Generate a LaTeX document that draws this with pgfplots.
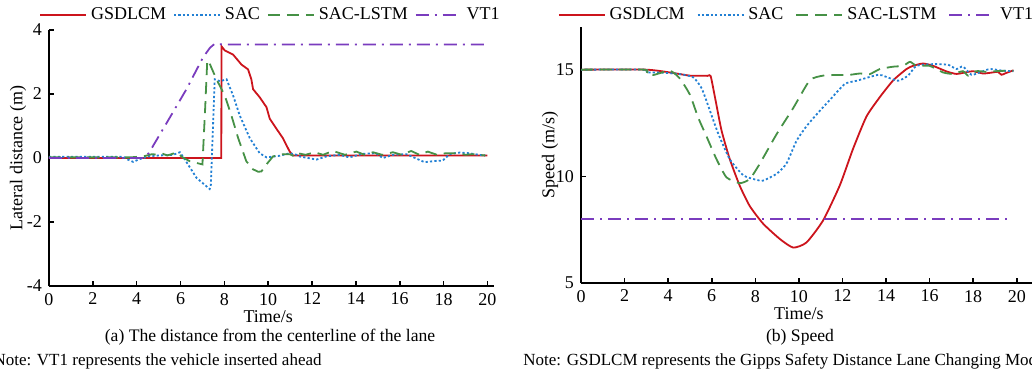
\documentclass[border=0pt]{standalone}
\usepackage{pgfplots}
\pgfplotsset{compat=1.18}
\usepackage{fontspec}
\setmainfont{Liberation Serif}
\definecolor{cred}{RGB}{204,20,28}
\definecolor{cblue}{RGB}{34,128,212}
\definecolor{cgreen}{RGB}{70,145,70}
\definecolor{cpurple}{RGB}{122,60,190}
\pgfplotsset{
  myaxis/.style={
    scale only axis,
    axis lines*=left,
    axis line style={line width=0.8pt},
    tick style={black,line width=0.8pt},
    tick align=inside,
    major tick length=2.6pt,
    xtick={0,2,...,20},
    /pgf/number format/assume math mode=true,
    tick label style={font=\fontsize{9}{10}\selectfont},
    label style={font=\fontsize{9}{10}\selectfont},
    legend style={draw=none, fill=none, inner sep=0pt, font=\fontsize{9}{10}\selectfont, legend columns=-1},
    legend image code/.code={\draw[#1] (0pt,0pt) -- (23pt,0pt);},
    clip=false,
  },
  sred/.style={color=cred, line width=0.9pt},
  sblue/.style={color=cblue, line width=0.9pt, dash pattern=on 1.1pt off 1.1pt},
  sgreen/.style={color=cgreen, line width=0.9pt, dash pattern=on 6pt off 3.5pt},
  spurple/.style={color=cpurple, line width=0.9pt, dash pattern=on 6.5pt off 3pt on 1pt off 3pt},
}
\begin{document}
\begin{tikzpicture}
\useasboundingbox (0,0) rectangle (516pt,188pt);
\clip (0,0) rectangle (516pt,188pt);
% ---------------- left ----------------
\begin{axis}[myaxis,
  at={(24.5pt,45pt)}, anchor=south west,
  width=222.5pt, height=128pt,
  xmin=0, xmax=20.3, ymin=-4, ymax=4,
  ytick={-4,-2,0,2,4},
  xlabel={Time/s},
  ylabel={Lateral distance (m)},
  x label style={at={(ticklabel cs:0.4926)}, anchor=near ticklabel, yshift=4pt},
  y label style={yshift=-6.5pt},
  legend style={at={(axis description cs:0.5,1.0586)}, anchor=center,
    /tikz/every even column/.append style={column sep=1.5pt}},
]
\addplot[sred] coordinates {(0,0) (7.86,0) (7.87,3.49) (8.02,3.36) (8.4,3.23) (8.78,2.92) (9.08,2.77) (9.23,2.46) (9.31,2.15) (9.61,1.9) (9.92,1.59) (10.07,1.23) (10.37,0.92) (10.67,0.62) (10.98,0.2) (11.13,0.08) (20,0.08)};
\addlegendentry{GSDLCM}
\addplot[sblue] coordinates {(0,0.04) (3.39,0.04) (3.6,-0.05) (3.84,-0.12) (4.15,-0.03) (4.6,0.06) (5.06,0.08) (5.66,0.1) (5.97,0.18) (6.2,-0.05) (6.73,-0.62) (7.33,-0.97) (7.38,-0.9) (7.56,2.46) (7.8,2.4) (8.1,2.46) (8.4,1.95) (8.7,1.33) (9.16,0.62) (9.61,0.15) (9.92,0.02) (10.52,0.07) (10.98,0.15) (11.3,0.1) (11.43,0.05) (12.2,-0.05) (12.65,0.05) (13.25,0.1) (13.7,0.02) (14.3,0.13) (14.9,0.15) (15.23,0.0) (15.7,0.1) (16.3,0.12) (16.6,0.03) (17.13,-0.13) (17.66,-0.09) (17.96,-0.08) (18.27,0.12) (18.72,0.17) (19.17,0.15) (19.6,0.1) (19.9,0.08)};
\addlegendentry{SAC}
\addplot[sgreen] coordinates {(0,0.02) (3.7,0.02) (4.3,0.05) (4.7,0.12) (5.0,0.1) (5.2,0.13) (5.4,0.08) (5.82,0.17) (6.1,0.02) (6.42,-0.1) (6.88,-0.18) (7.0,-0.2) (7.12,1.5) (7.22,3.05) (7.3,3.0) (7.41,2.82) (7.64,2.46) (8.02,1.95) (8.32,1.33) (8.63,0.62) (9.0,-0.1) (9.3,-0.35) (9.54,-0.43) (9.69,-0.42) (9.92,-0.2) (10.22,0.05) (10.67,0.12) (10.98,0.12) (11.2,0.05) (11.36,0.15) (11.7,0.1) (12.12,0.18) (12.5,0.1) (12.95,0.22) (13.5,0.1) (14.02,0.2) (14.4,0.1) (14.78,0.18) (15.2,0.1) (15.69,0.18) (16.1,0.1) (16.52,0.22) (16.9,0.1) (17.28,0.2) (17.7,0.1) (18.1,0.15) (18.7,0.15) (19.0,0.1) (19.3,0.12) (19.9,0.08)};
\addlegendentry{SAC-LSTM}
\addplot[spurple] coordinates {(0,0) (4.3,0) (4.55,0.15) (5.5,1.25) (6.27,2.15) (7.03,3.15) (7.35,3.45) (7.56,3.57) (7.9,3.55) (20,3.55)};
\addlegendentry{VT1}
\end{axis}
% ---------------- right ----------------
\begin{axis}[myaxis,
  at={(290.5pt,46.5pt)}, anchor=south west,
  width=225.5pt, height=128pt,
  xmin=0, xmax=20.7, ymin=5, ymax=17,
  ytick={5,10,15},
  xlabel={Time/s},
  ylabel={Speed (m/s)},
  x label style={at={(ticklabel cs:0.483)}, anchor=near ticklabel, yshift=4pt},
  y label style={yshift=-8pt},
  legend style={at={(axis description cs:0.48,1.047)}, anchor=center,
    /tikz/every even column/.append style={column sep=4pt}},
]
\addplot[sred, smooth, tension=0.35] coordinates {(0,15.0) (3,15.0) (4.2,14.85) (5.0,14.72) (5.8,14.71) (5.95,14.7) (6.15,13.7) (6.45,12.15) (6.83,10.8) (7.29,9.55) (7.75,8.6) (8.36,7.78) (9.13,7.06) (9.74,6.66) (10.35,6.9) (11.11,7.93) (11.88,9.58) (12.49,11.3) (13.1,12.8) (13.72,13.72) (14.33,14.5) (14.94,15.03) (15.24,15.18) (15.7,15.29) (16.16,15.18) (16.77,14.92) (17.23,14.8) (17.69,14.88) (18.0,14.93) (18.45,14.82) (18.9,14.87) (19.13,14.9) (19.3,14.76) (19.5,14.84) (19.85,14.97)};
\addlegendentry{GSDLCM}
\addplot[sblue, smooth, tension=0.35] coordinates {(0,15.0) (2.9,15.0) (3.01,14.87) (3.6,14.87) (4.54,14.79) (5.15,14.64) (5.54,14.12) (5.92,13.07) (6.3,12.0) (6.83,10.8) (7.45,10.05) (8.0,9.85) (8.36,9.8) (8.98,10.12) (9.43,10.6) (9.89,11.66) (10.35,12.35) (10.96,13.07) (11.42,13.58) (12.11,14.33) (12.65,14.48) (13.64,14.76) (13.99,14.67) (14.55,14.48) (15.01,14.72) (15.4,15.18) (16.16,15.26) (16.85,15.23) (17.23,15.03) (17.53,15.15) (17.92,14.76) (18.3,14.87) (18.76,15.03) (19.37,14.95) (19.85,14.93)};
\addlegendentry{SAC}
\addplot[sgreen, smooth, tension=0.35] coordinates {(0,15.0) (2.9,15.0) (3.01,14.8) (3.32,14.75) (4.08,14.95) (4.54,14.58) (5.0,13.82) (5.38,12.75) (5.77,11.85) (6.22,10.8) (6.68,9.95) (7.29,9.68) (7.75,9.88) (8.21,10.6) (8.98,11.98) (9.74,13.2) (10.5,14.5) (11.11,14.72) (11.7,14.75) (12.34,14.76) (12.8,14.82) (13.25,14.79) (13.72,15.03) (14.33,15.14) (14.79,15.18) (15.1,15.37) (15.4,15.18) (16.0,15.18) (16.62,14.87) (17.08,14.8) (17.53,14.93) (17.77,14.72) (18.15,14.93) (18.6,14.9) (19.07,14.93) (19.53,14.95) (19.85,14.95)};
\addlegendentry{SAC-LSTM}
\addplot[spurple] coordinates {(0,8) (19.8,8)};
\addlegendentry{VT1}
\end{axis}
% captions and notes
\node[font=\fontsize{8.8}{10}\selectfont, anchor=base] at (135pt,17.5pt) {(a) The distance from the centerline of the lane};
\node[font=\fontsize{8.8}{10}\selectfont, anchor=base] at (400pt,17.5pt) {(b) Speed};
\node[font=\fontsize{8.5}{10}\selectfont, anchor=base east, inner sep=0pt] at (161pt,5.5pt) {Note: VT1 represents the vehicle inserted ahead};
\node[font=\fontsize{8.5}{10}\selectfont, anchor=base west, inner sep=0pt] at (261.5pt,5.5pt) {Note: GSDLCM represents the Gipps Safety Distance Lane Changing Model};
\end{tikzpicture}
\end{document}
